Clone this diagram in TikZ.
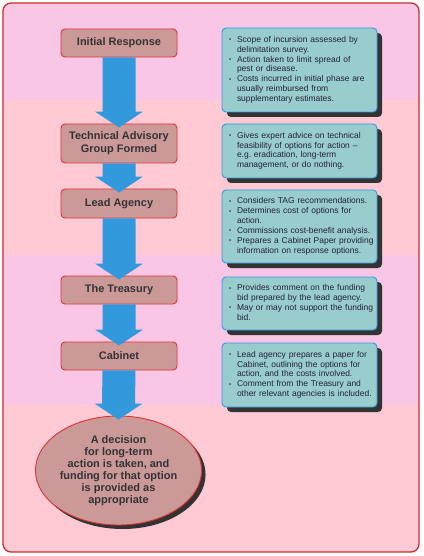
\documentclass[tikz,border=0pt]{standalone}
\usepackage{fontspec}
\setmainfont{Liberation Sans}
\usetikzlibrary{calc,shadows,shapes.geometric}
\frenchspacing
\definecolor{bandA}{HTML}{F9C6E6}
\definecolor{bandB}{HTML}{FFCAD4}
\definecolor{outerred}{HTML}{CC2B2B}
\definecolor{lboxfill}{HTML}{CC9999}
\definecolor{lboxline}{HTML}{DD3333}
\definecolor{rboxfill}{HTML}{99CCCC}
\definecolor{rboxline}{HTML}{3399E6}
\definecolor{arrowc}{HTML}{3399DD}
\definecolor{shadowc}{HTML}{333333}
\definecolor{ltext}{HTML}{333333}
\definecolor{rtext}{HTML}{22223A}
\newcommand{\bul}{\raisebox{0.5bp}{\fontsize{6}{6}\selectfont •}}
\newenvironment{blist}{\frenchspacing\begin{tabular}{@{}p{8bp}@{}l@{}}}{\end{tabular}}
\begin{document}
\begin{tikzpicture}[x=1bp,y=-1bp,
  lbox/.style={draw=lboxline, line width=0.9bp, fill=lboxfill, rounded corners=4bp,
    minimum width=116bp, text=ltext, font=\fontsize{11}{13}\selectfont\bfseries,
    align=center, inner sep=2bp},
  rbox/.style={draw=rboxline, line width=0.9bp, fill=rboxfill, rounded corners=4bp,
    minimum width=155bp, text width=141bp, inner xsep=7bp, inner ysep=2bp,
    text=rtext, font=\fontsize{8.5}{10}\selectfont, align=left,
    drop shadow={shadow xshift=5bp, shadow yshift=-5bp, opacity=1, fill=shadowc, draw=none}},
  decision/.style={ellipse, draw=lboxline, line width=0.9bp, fill=lboxfill,
    minimum width=145bp, minimum height=109bp, inner sep=0bp, text=ltext,
    font=\fontsize{11}{12}\selectfont\bfseries, align=center,
    drop shadow={shadow xshift=4bp, shadow yshift=-4bp, opacity=1, fill=shadowc, draw=none}},
  flow/.style={fill=arrowc}
]
\useasboundingbox (0,0) rectangle (423,556);
% background bands
\begin{scope}
  \clip[rounded corners=8bp] (3,3) rectangle (419,552);
  \fill[bandA] (3,3) rectangle (419,100);
  \fill[bandB] (3,100) rectangle (419,255);
  \fill[bandA] (3,255) rectangle (419,405);
  \fill[bandB] (3,405) rectangle (419,552);
\end{scope}
\draw[outerred, line width=1.3bp, rounded corners=8bp] (3,3) rectangle (419,552);

% left flow boxes
\node[lbox, minimum height=28bp] (init) at (119,43) {Initial Response};
\node[lbox, minimum height=39bp] (tag) at (119,143.5) {Technical Advisory\\Group Formed};
\node[lbox, minimum height=29bp] (lead) at (119,203.5) {Lead Agency};
\node[lbox, minimum height=28bp] (treas) at (119,290) {The Treasury};
\node[lbox, minimum height=28bp] (cab) at (119,356) {Cabinet};
\node[decision] (dec) at (118.5,470.5) {A decision\\for long-term\\action is taken, and\\funding for that option\\is provided as\\appropriate};

% arrows
\foreach \a/\b in {init/tag, tag/lead, lead/treas, treas/cab, cab/dec} {
  \fill[flow] ($(\a.south)+(-16.5,0)$) -- ($(\a.south)+(16.5,0)$)
    -- ($(\b.north)+(16.5,-12)$) -- ($(\b.north)+(24,-12)$)
    -- ($(\b.north)+(0,4)$)
    -- ($(\b.north)+(-24,-12)$) -- ($(\b.north)+(-16.5,-12)$) -- cycle;
}

% right description boxes
\node[rbox, minimum height=84bp] (r1) at (299.5,70) {\begin{blist}
\bul & Scope of incursion assessed by\\ & delimitation survey.\\
\bul & Action taken to limit spread of\\ & pest or disease.\\
\bul & Costs incurred in initial phase are\\ & usually reimbursed from\\ & supplementary estimates.
\end{blist}};
\node[rbox, minimum height=54bp] (r2) at (299.5,151) {\begin{blist}
\bul & Gives expert advice on technical\\ & feasibility of options for action --\\ & e.g. eradication, long-term\\ & management, or do nothing.
\end{blist}};
\node[rbox, minimum height=73bp] (r3) at (299.5,226.5) {\begin{blist}
\bul & Considers TAG recommendations.\\
\bul & Determines cost of options for\\ & action.\\
\bul & Commissions cost-benefit analysis.\\
\bul & Prepares a Cabinet Paper providing\\ & information on response options.
\end{blist}};
\node[rbox, minimum height=53bp] (r4) at (299.5,303.5) {\begin{blist}
\bul & Provides comment on the funding\\ & bid prepared by the lead agency.\\
\bul & May or may not support the funding\\ & bid.
\end{blist}};
\node[rbox, minimum height=64bp] (r5) at (299.5,375) {\begin{blist}
\bul & Lead agency prepares a paper for\\ & Cabinet, outlining the options for\\ & action, and the costs involved.\\
\bul & Comment from the Treasury and\\ & other relevant agencies is included.
\end{blist}};
\end{tikzpicture}
\end{document}
